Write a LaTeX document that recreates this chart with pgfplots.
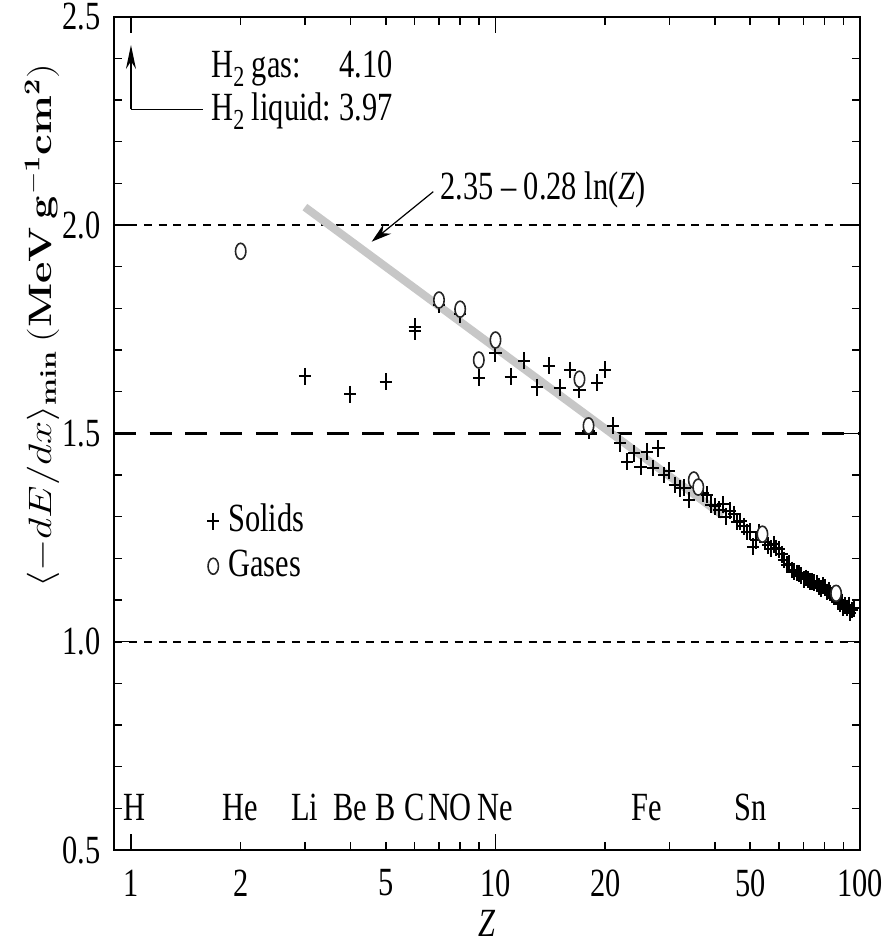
\documentclass[border=0pt]{standalone}
\usepackage[no-math]{fontspec}
\setmainfont{Liberation Serif}[FakeStretch=0.76, ItalicFont={Liberation Serif Italic}, BoldFont={Liberation Serif Bold}]
\usepackage{pgfplots}
\pgfplotsset{compat=1.18}
\usetikzlibrary{arrows.meta}
\pgfplotstableread{
Z y
3 1.637
4 1.594
5 1.624
6 1.745
6 1.756
7 1.808
8 1.786
9 1.634
10 1.692
11 1.636
12 1.674
13 1.611
14 1.662
15 1.610
16 1.652
17 1.605
18 1.506
19 1.622
20 1.653
21 1.518
22 1.476
23 1.432
24 1.452
25 1.420
26 1.456
27 1.417
28 1.464
29 1.400
30 1.410
31 1.376
32 1.368
33 1.370
34 1.340
37 1.356
38 1.353
39 1.329
40 1.325
41 1.317
42 1.330
43 1.300
44 1.314
45 1.306
46 1.288
47 1.289
48 1.277
49 1.263
50 1.264
51 1.228
52 1.243
53 1.263
55 1.240
56 1.231
57 1.223
58 1.234
59 1.225
60 1.222
61 1.210
62 1.196
63 1.185
64 1.187
65 1.172
66 1.167
67 1.165
68 1.163
69 1.158
70 1.150
71 1.153
72 1.150
73 1.145
74 1.145
75 1.142
76 1.139
77 1.133
78 1.128
79 1.134
80 1.130
81 1.119
82 1.122
83 1.117
84 1.112
85 1.108
87 1.097
88 1.091
89 1.095
90 1.082
91 1.086
92 1.081
93 1.088
94 1.070
95 1.076
96 1.080
}\solids
\pgfplotstableread{
Z y
2 1.937
7 1.820
8 1.798
9 1.676
10 1.724
17 1.630
18 1.518
35 1.388
36 1.371
54 1.258
86 1.116
}\gases
\begin{document}
\fontsize{20}{24}\selectfont
\begin{tikzpicture}
\useasboundingbox (-57.15pt,-49.5pt) rectangle (385.35pt,425pt);
\begin{axis}[
  at={(0,0)}, anchor=south west,
  scale only axis, width=372.85pt, height=416.65pt,
  xmode=log, xmin=0.9, xmax=100, ymin=0.5, ymax=2.5,
  axis line style={line width=1pt},
  every tick/.style={black, line width=0.8pt},
  major tick length=8pt, minor tick length=4pt,
  xtick={1,10,100}, xticklabels={1,10,100},
  minor xtick={2,3,4,5,6,7,8,9,20,30,40,50,60,70,80,90},
  extra x ticks={2,5,20,50}, extra x tick labels={2,5,20,50},
  extra x tick style={major tick style={draw=none}},
  xticklabel style={yshift=-3pt},
  ytick={0.5,1,1.5,2,2.5}, minor y tick num=4,
  yticklabel style={xshift=0pt, /pgf/number format/.cd, fixed, fixed zerofill, precision=1, assume math mode=true},
  xlabel={\textit{Z}},
  every axis x label/.style={at={(axis description cs:0.5,-0.088)}, anchor=center},
  ylabel={\scalebox{1}[0.78]{$\langle -dE/dx\rangle_{\mathbf{min}}$ $\mathbf{(MeV\ g^{-1}cm^{2})}$}},
  every axis y label/.style={at={(axis description cs:-0.097,0.629)}, rotate=90, anchor=center},
  legend style={at={(axis description cs:0.116,0.368)}, anchor=west, draw=none, fill=none, row sep=2pt,
    /tikz/every odd column/.append style={column sep=2.5pt}},
  legend cell align=left,
  legend image code/.code={\draw[mark repeat=2,mark phase=2,#1] plot coordinates {(0pt,0pt) (9pt,0pt) (18pt,0pt)};},
]
\addplot[forget plot, black, line width=0.9pt, dash pattern=on 4pt off 3.4pt] coordinates {(0.9,2.0) (100,2.0)};
\addplot[forget plot, black, line width=0.9pt, dash pattern=on 4pt off 3.4pt] coordinates {(0.9,1.0) (100,1.0)};
\addplot[forget plot, black, line width=1.2pt, dash pattern=on 11pt off 6.7pt] coordinates {(0.9,1.5) (100,1.5)};
\addplot[forget plot, black!22, line width=4pt] coordinates {(3.0,2.043) (42,1.303)};
\addplot[only marks, mark=+, mark size=4.2pt, mark options={xscale=0.72, line width=1pt, black}] table[x=Z,y=y] {\solids};
\addlegendentry{Solids}
\addplot[only marks, mark=*, mark size=4pt, mark options={xscale=0.65, line width=0.8pt, draw=black!85, fill=white}] table[x=Z,y=y] {\gases};
\addlegendentry{Gases}
% annotations
\draw[line width=0.6pt, -{Stealth[length=12pt,width=5pt]}] (axis cs:1,2.278) -- (axis cs:1,2.432);
\draw[line width=0.6pt] (axis cs:1,2.278) -- (axis cs:1.573,2.278);
\node[anchor=base west, inner sep=0pt] at (axis cs:1.658,2.298) {\fontsize{20}{21.25}\selectfont
  \begin{tabular}{@{}l@{\hspace{0.2em}}l@{}}
  H\raisebox{-4.5pt}{\fontsize{14.5}{14.5}\selectfont 2} gas: & 4.10\\
  H\raisebox{-4.5pt}{\fontsize{14.5}{14.5}\selectfont 2} liquid: & 3.97
  \end{tabular}};
\draw[line width=0.6pt, -{Stealth[length=10pt,width=6pt]}] (axis cs:6.75,2.080) -- (axis cs:4.575,1.960);
\node[anchor=base west, inner sep=0pt] at (axis cs:7.04,2.062) {2.35 -- 0.28 ln(\textit{Z})};
% element labels
\node[anchor=base] at (axis cs:1.02,0.570) {H};
\node[anchor=base] at (axis cs:2,0.570) {He};
\node[anchor=base] at (axis cs:3,0.570) {Li};
\node[anchor=base] at (axis cs:4,0.570) {Be};
\node[anchor=base] at (axis cs:5,0.570) {B};
\node[anchor=base] at (axis cs:6,0.570) {C};
\node[anchor=base] at (axis cs:7,0.570) {N};
\node[anchor=base] at (axis cs:8,0.570) {O};
\node[anchor=base] at (axis cs:10,0.570) {Ne};
\node[anchor=base] at (axis cs:26,0.570) {Fe};
\node[anchor=base] at (axis cs:50,0.570) {Sn};
\end{axis}
\end{tikzpicture}
\end{document}
